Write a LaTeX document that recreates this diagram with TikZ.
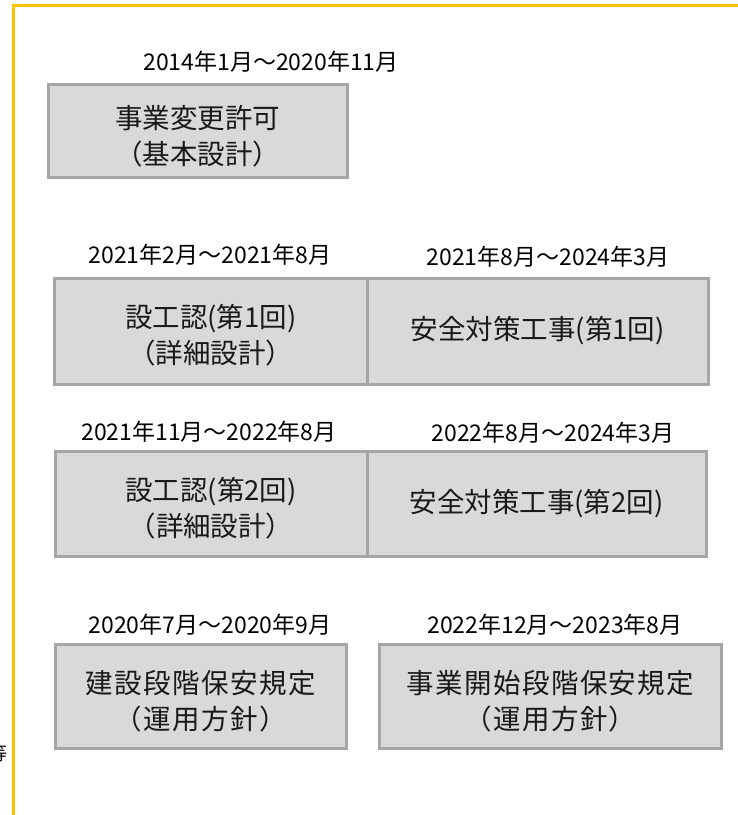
\documentclass[tikz,border=0pt]{standalone}
\usepackage{fontspec}
\setmainfont{Noto Sans CJK JP}
\definecolor{frameyellow}{HTML}{FFC000}
\definecolor{boxfill}{HTML}{D9D9D9}
\definecolor{boxline}{HTML}{A6A6A6}
\tikzset{
  box/.style={draw=boxline, fill=boxfill, line width=3pt, inner sep=0pt},
  boxtext/.style={inner sep=0pt, align=center, font=\fontsize{27.5}{36}\selectfont, text=black!90},
  datelabel/.style={inner sep=0pt, font=\fontsize{23}{26}\selectfont, text=black},
  frameline/.style={draw=frameyellow, line width=3pt}
}
\begin{document}
\begin{tikzpicture}[x=1pt,y=-1pt]
\useasboundingbox (0,0) rectangle (738,815);
\draw[frameline] (13.5,816) -- (13.5,5) -- (739,5);
\node[box, minimum width=298.5pt, minimum height=92.5pt] (b1) at (197.75,130.75) {};
\node[box, minimum width=312.5pt, minimum height=106pt] (b2l) at (210.75,331) {};
\node[box, minimum width=341.5pt, minimum height=106pt] (b2r) at (537.75,331) {};
\node[box, minimum width=312pt, minimum height=105.5pt] (b3l) at (211,503.75) {};
\node[box, minimum width=339pt, minimum height=105.5pt] (b3r) at (536.5,503.75) {};
\node[box, minimum width=290.5pt, minimum height=104.5pt] (b4l) at (200.75,696.25) {};
\node[box, minimum width=342pt, minimum height=104.5pt] (b4r) at (550.5,696.25) {};
\node[boxtext] (t1) at ([yshift=-5pt]b1.center) {事業変更許可\\（基本設計）};
\node[boxtext] (t2l) at ([yshift=-4pt]b2l.center) {設工認(第1回)\\（詳細設計）};
\node[boxtext] (t2r) at ([yshift=0pt]b2r.center) {安全対策工事(第1回)};
\node[boxtext] (t3l) at ([yshift=-4pt]b3l.center) {設工認(第2回)\\（詳細設計）};
\node[boxtext] (t3r) at ([yshift=0pt]b3r.center) {安全対策工事(第2回)};
\node[boxtext, font=\fontsize{27.5}{36}\selectfont\addfontfeature{LetterSpace=5}] (t4l) at ([yshift=-5pt]b4l.center) {建設段階保安規定\\（運用方針）};
\node[boxtext, font=\fontsize{27.5}{36}\selectfont\addfontfeature{LetterSpace=5}] (t4r) at ([yshift=-5pt]b4r.center) {事業開始段階保安規定\\（運用方針）};
\node[datelabel] (d1) at (271,62) {2014年1月～2020年11月};
\node[datelabel] (d2l) at (210,255) {2021年2月～2021年8月};
\node[datelabel] (d2r) at (548,257) {2021年8月～2024年3月};
\node[datelabel] (d3l) at (209,432) {2021年11月～2022年8月};
\node[datelabel] (d3r) at (553,433) {2022年8月～2024年3月};
\node[datelabel] (d4l) at (210,625) {2020年7月～2020年9月};
\node[datelabel] (d4r) at (555,625) {2022年12月～2023年8月};
\node[inner sep=0pt, font=\fontsize{19}{20}\selectfont] (etc) at (-2.5,753) {等};
\end{tikzpicture}
\end{document}
